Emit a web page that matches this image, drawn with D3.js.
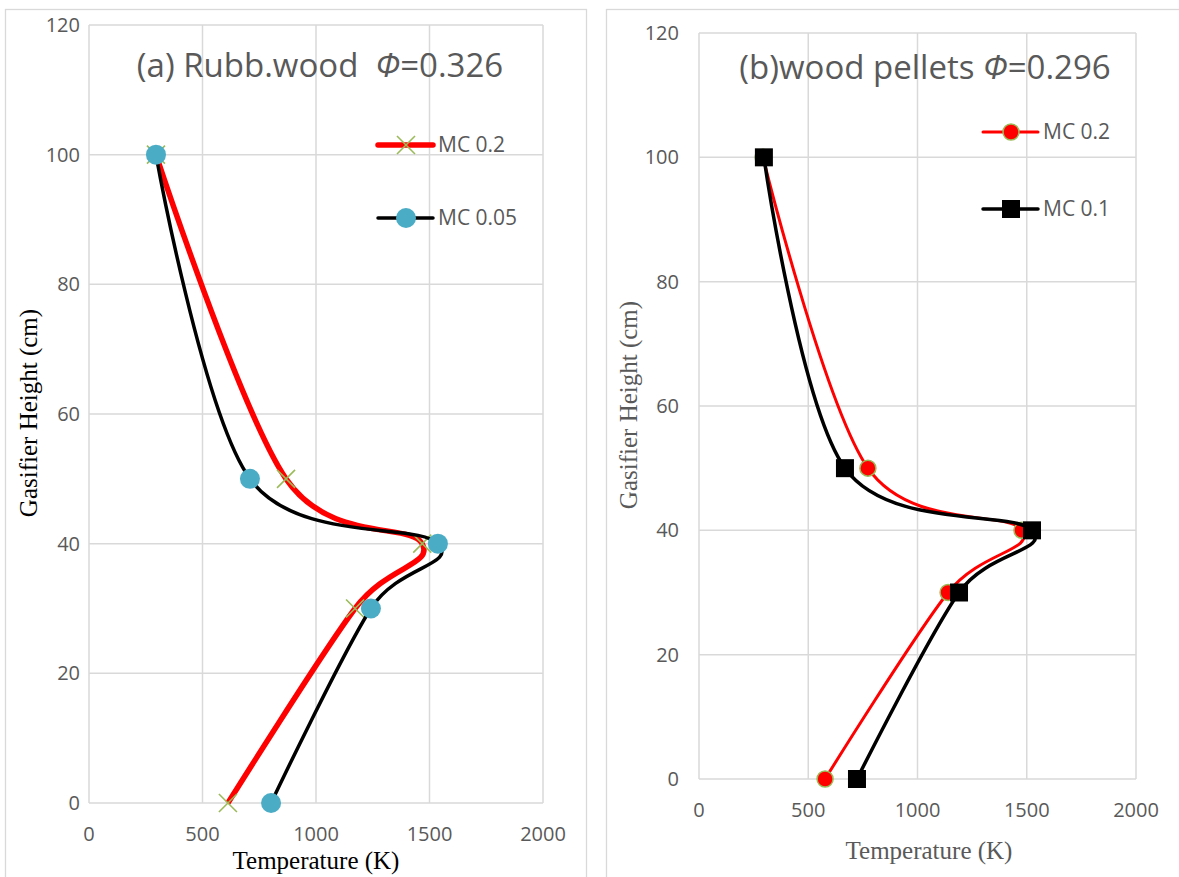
<!DOCTYPE html>
<html>
<head>
<meta charset="utf-8">
<script src="https://cdn.jsdelivr.net/npm/d3@7"></script>
<style>
  body { margin: 0; background: #fff; }
  text { white-space: pre; }
</style>
</head>
<body>
<svg id="chart" width="1179" height="877"></svg>
<script>
// data
var heights = [100, 50, 40, 30, 0];
var rubbMC02 = [295, 868, 1468, 1172, 612];
var rubbMC005 = [295, 709, 1537, 1242, 802];
var pelletMC02 = [293, 773, 1478, 1140, 577];
var pelletMC01 = [297, 668, 1524, 1190, 723];
var xTicks = [0, 500, 1000, 1500, 2000];
var yTicks = [0, 20, 40, 60, 80, 100, 120];

var GRID = '#d9d9d9', TXT = '#595959', GREEN = '#9bbb59';
var svg = d3.select('#chart');

function drawPanel(p) {
  var x = d3.scaleLinear().domain([0, 2000]).range([p.left, p.right]);
  var y = d3.scaleLinear().domain([0, 120]).range([p.bottom, p.top]);
  var g = svg.append('g');

  // outer frame
  g.append('rect')
    .attr('x', p.box[0] + 0.5).attr('y', p.box[1] + 0.5)
    .attr('width', p.box[2]).attr('height', 1000)
    .attr('fill', 'none').attr('stroke', GRID).attr('stroke-width', 1.3);

  // grid
  g.selectAll('.vg').data(xTicks).enter().append('line')
    .attr('x1', function(d) { return x(d); }).attr('x2', function(d) { return x(d); })
    .attr('y1', y(0)).attr('y2', y(120))
    .attr('stroke', GRID).attr('stroke-width', 1.5);
  g.selectAll('.hg').data(yTicks).enter().append('line')
    .attr('y1', function(d) { return y(d); }).attr('y2', function(d) { return y(d); })
    .attr('x1', x(0)).attr('x2', x(2000))
    .attr('stroke', GRID).attr('stroke-width', 1.5);

  // tick labels
  g.selectAll('.xl').data(xTicks).enter().append('text')
    .attr('x', function(d) { return x(d); }).attr('y', p.bottom + 38)
    .attr('text-anchor', 'middle')
    .style('font', '20px "Open Sans"').style('fill', TXT)
    .text(function(d) { return d; });
  g.selectAll('.yl').data(yTicks).enter().append('text')
    .attr('x', p.yLabX).attr('y', function(d) { return y(d) + 7; })
    .attr('text-anchor', 'end')
    .style('font', '20px "Open Sans"').style('fill', TXT)
    .text(function(d) { return d; });

  // axis titles
  g.append('text')
    .attr('x', p.xTitle[0]).attr('y', p.xTitle[1])
    .attr('text-anchor', 'middle')
    .style('font', '25px "Liberation Serif"').style('fill', p.titleColor)
    .text('Temperature (K)');
  g.append('text')
    .attr('transform', 'translate(' + p.yTitle[0] + ',' + p.yTitle[1] + ') rotate(-90)')
    .attr('text-anchor', 'middle').attr('dy', '0.35em')
    .style('font', '25px "Liberation Serif"').style('fill', p.titleColor)
    .text('Gasifier Height (cm)');

  // chart title
  var t = g.append('text')
    .attr('x', p.title[0]).attr('y', p.title[1])
    .attr('text-anchor', 'middle')
    .style('font', '33px "Open Sans"').style('fill', TXT);
  t.append('tspan').text(p.titleA);
  t.append('tspan').style('font-style', 'italic').text('Φ');
  t.append('tspan').text(p.titleB);

  var line = d3.line()
    .x(function(d) { return x(d[0]); })
    .y(function(d) { return y(d[1]); })
    .curve(d3.curveCardinal.tension(0));

  p.series.forEach(function(s, i) {
    var pts = s.values.map(function(v, j) { return [v, heights[j]]; });
    g.append('path').datum(pts)
      .attr('d', line)
      .attr('fill', 'none').attr('stroke', s.color).attr('stroke-width', s.width);
    pts.forEach(function(d) { marker(g, s.marker, x(d[0]), y(d[1])); });

    // legend
    var ly = p.legend[1] + i * p.legend[2];
    g.append('line')
      .attr('x1', p.legend[0]).attr('x2', p.legend[0] + 55)
      .attr('y1', ly).attr('y2', ly)
      .attr('stroke', s.color).attr('stroke-width', s.width).attr('stroke-linecap', 'round');
    marker(g, s.marker, p.legend[0] + 28, ly);
    g.append('text')
      .attr('x', p.legend[0] + 60).attr('y', ly + 7)
      .style('font', '21px "Open Sans"').style('fill', TXT)
      .text(s.name);
  });
}

function marker(g, type, cx, cy) {
  if (type === 'x') {
    var r = 9;
    g.append('path')
      .attr('d', 'M' + (cx - r) + ',' + (cy - r) + 'L' + (cx + r) + ',' + (cy + r) +
                 'M' + (cx - r) + ',' + (cy + r) + 'L' + (cx + r) + ',' + (cy - r))
      .attr('stroke', GREEN).attr('stroke-width', 1.6).attr('fill', 'none');
  } else if (type === 'cyan') {
    g.append('circle').attr('cx', cx).attr('cy', cy).attr('r', 10).attr('fill', '#4bacc6');
  } else if (type === 'red') {
    g.append('circle').attr('cx', cx).attr('cy', cy).attr('r', 8)
      .attr('fill', '#ff0000').attr('stroke', GREEN).attr('stroke-width', 1.5);
  } else if (type === 'square') {
    g.append('rect').attr('x', cx - 9).attr('y', cy - 9)
      .attr('width', 18).attr('height', 18).attr('fill', '#000');
  }
}

drawPanel({
  box: [5, 9, 581],
  left: 89, right: 543, top: 25, bottom: 803,
  yLabX: 80,
  xTitle: [316, 869], yTitle: [28, 413], titleColor: '#000',
  title: [320, 77], titleA: '(a) Rubb.wood  ', titleB: '=0.326',
  legend: [378, 145, 73],
  series: [
    { name: 'MC 0.2', values: rubbMC02, color: '#ff0000', width: 5.5, marker: 'x' },
    { name: 'MC 0.05', values: rubbMC005, color: '#000', width: 3.5, marker: 'cyan' }
  ]
});

drawPanel({
  box: [606, 9, 700],
  left: 699, right: 1136, top: 33, bottom: 779,
  yLabX: 679,
  xTitle: [929, 859], yTitle: [628, 405], titleColor: TXT,
  title: [925, 79], titleA: '(b)wood pellets ', titleB: '=0.296',
  legend: [983, 132, 77],
  series: [
    { name: 'MC 0.2', values: pelletMC02, color: '#ff0000', width: 3, marker: 'red' },
    { name: 'MC 0.1', values: pelletMC01, color: '#000', width: 3.5, marker: 'square' }
  ]
});
</script>
</body>
</html>
